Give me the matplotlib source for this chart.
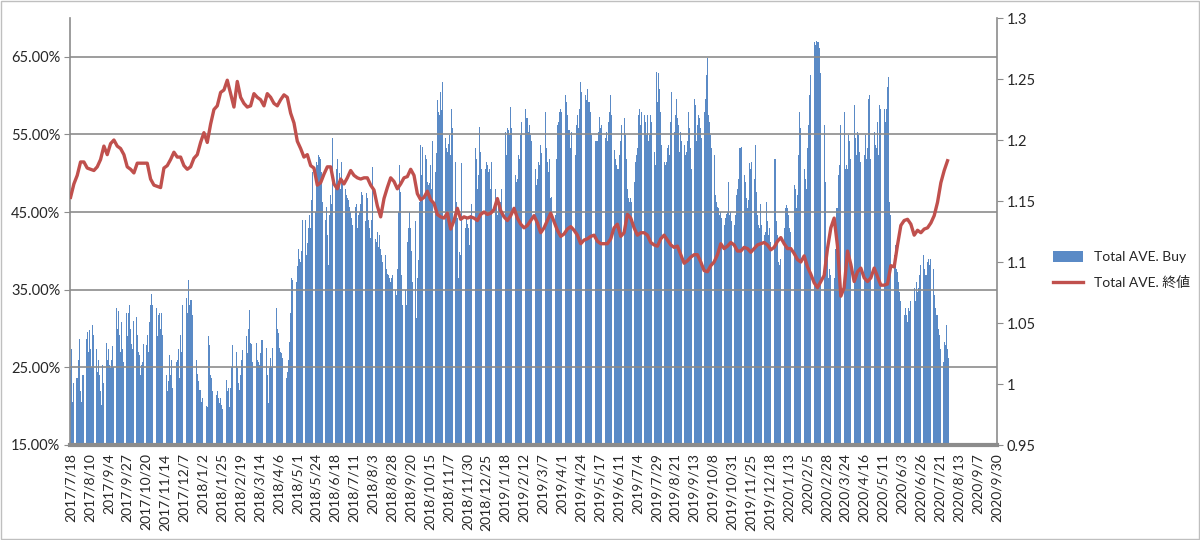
import numpy as np
import matplotlib.pyplot as plt
from matplotlib.patches import Rectangle

# Total AVE. Buy (%), one value per weekday from 2017/7/18 to 2020/7/31
buy_pct = [
    24.7, 27.4, 20.6, 23, 19.5, 23.6, 23.6, 26, 28.7, 22,
    20.6, 24, 24, 26, 28.7, 29.6, 27, 29.8, 27.4, 25,
    30.5, 29.2, 27, 27.4, 24.4, 26, 24, 22, 20.2, 25.3,
    23, 24.4, 28.1, 26, 27.4, 25.3, 24.9, 26, 27.7, 25,
    27.7, 32.6, 30, 32.2, 29.2, 27, 30.9, 27.4, 25.7, 28,
    32, 29, 32, 33, 30, 28, 27.4, 31, 33, 31.5,
    29.2, 27, 26.6, 24, 25.3, 25.7, 28, 30.2, 27.9, 29.2,
    27, 30.9, 33, 34.5, 33, 30, 31, 32.6, 29, 31.7,
    32, 30, 32, 29.2, 27.4, 26, 24, 22, 23.2, 26.6,
    24, 26, 22.3, 24.4, 23, 25.7, 26, 27.4, 23.6, 29.2,
    27, 33, 34.7, 32, 33.9, 32, 36.2, 33, 33.7, 33.7,
    31.7, 27, 24.7, 26, 24.2, 23.2, 22.1, 22.1, 20.6, 21,
    20.2, 20.8, 20, 19.9, 29, 27.9, 24, 23.6, 21.9, 21.9,
    23.6, 21.4, 22, 21, 20.4, 21, 20.2, 19.7, 21, 26,
    23.4, 22, 22.3, 19.9, 22.3, 25, 27.9, 27.7, 26, 27,
    24.9, 23, 22.1, 24, 26, 27.2, 28.1, 27, 29, 26.8,
    30, 32.4, 28.1, 28, 25.7, 28.1, 27, 28.1, 26, 25.7,
    25.3, 26.8, 28.5, 28.5, 31.3, 29, 27.5, 24, 20.4, 24.9,
    26.2, 25, 27.5, 29, 30.7, 32.6, 30, 29.4, 27.5, 27,
    26.8, 26.2, 25, 24.7, 23.6, 24.4, 26, 28.3, 32, 36.5,
    36.2, 42, 38, 36, 38, 40.3, 39, 38.6, 40, 44,
    41, 44, 39.5, 41, 42.9, 44.6, 43, 46.5, 50.2, 45.5,
    45, 51.5, 51.1, 52.3, 52.1, 51.9, 50.2, 46.3, 47, 44,
    45.7, 42, 38.2, 44.6, 47.2, 46, 54.5, 51.1, 48.5, 50.6,
    51.9, 49, 50, 48, 51.5, 49.3, 48, 48, 47.2, 46.8,
    46.5, 45.7, 45, 44.2, 43.3, 44, 45.7, 46.1, 42.9, 44.6,
    45, 46, 47.6, 47.2, 45, 43.8, 47.4, 46.8, 44, 42.9,
    41.6, 44, 50.8, 42.5, 41.5, 41.2, 42.5, 40.5, 42, 40.3,
    39.5, 38.6, 39, 39.5, 37.7, 37, 36.9, 36.5, 36, 36.5,
    36.9, 36.2, 35, 34.3, 37.7, 45, 51.1, 47.6, 36.9, 33,
    40.3, 35, 33, 41.2, 43, 45, 42.9, 40, 36, 40,
    43.8, 31.3, 36.5, 38.8, 46.3, 53.6, 49.8, 53.4, 51.1, 52.3,
    51.9, 48.9, 48.5, 48.7, 51.1, 48, 54.1, 54.9, 50.2, 52.6,
    59.4, 57.9, 57.5, 60.5, 58.1, 61.8, 57.5, 54.5, 53.2, 52.8,
    53.8, 54.9, 52.3, 58.3, 55.8, 54.1, 51.5, 46.3, 44.2, 36.5,
    39.9, 39.5, 51.3, 46.8, 45.5, 42.9, 44.2, 43.5, 42.9, 40.8,
    44.6, 46.1, 48.5, 46.3, 53.2, 51.9, 48, 49.8, 56, 52.8,
    50.6, 51.1, 48.9, 50.6, 51.5, 51.1, 50.2, 50.6, 48, 51.5,
    50.2, 50.6, 48, 46.3, 44.6, 46.8, 45.5, 46.3, 48, 52.3,
    54.1, 55.3, 52.3, 55.8, 55.6, 54.9, 58.6, 55.8, 52.3, 51.9,
    49.8, 48.9, 49.3, 52.3, 51.9, 54.9, 56.6, 60.9, 59.2, 58.3,
    57.1, 57.1, 55.3, 56.2, 54.9, 54.1, 52.8, 52.3, 50.6, 48.5,
    49.3, 51.5, 51.1, 53.6, 52.6, 52.3, 62.4, 57.9, 53.2, 51.5,
    50.2, 51.9, 46.8, 47, 46.3, 41.2, 44.6, 51.9, 56.2, 56.6,
    57.9, 58.3, 57.9, 59.6, 61.1, 60.1, 59.2, 57.5, 55.6, 55.6,
    53.2, 55.3, 53.2, 52.8, 52.3, 56.2, 57.5, 55.8, 58.3, 61.8,
    60.5, 63.5, 61.8, 60.1, 59.4, 60.9, 59.2, 59.2, 57.9, 54.9,
    54.1, 54.5, 54.1, 54.1, 54.1, 55.3, 57.3, 55.8, 56.2, 54.5,
    56.6, 54.5, 55.3, 54.1, 56.6, 57.9, 60.1, 57.5, 57.1, 53,
    51.9, 51.1, 50.6, 50.6, 52.3, 54.1, 56.2, 57.1, 57.1, 54.9,
    51.9, 48, 46.8, 46.3, 46.8, 46.3, 45.9, 48.9, 51.5, 52.3,
    53.2, 57.5, 58.3, 56.2, 57.9, 56.6, 57.5, 56.6, 54.9, 57.5,
    54.1, 54.9, 57.5, 56.6, 53.2, 52.8, 51.1, 63.1, 59.2, 62.9,
    60.9, 57.9, 53.6, 51.9, 51.5, 51.1, 51.5, 53.2, 53.6, 52.3,
    56.6, 60.5, 57.1, 55.3, 57.5, 59.6, 57.1, 56.2, 52.8, 55.3,
    54.1, 54.9, 53.6, 52.3, 52.8, 54.1, 57.9, 55.8, 53.2, 50.6,
    52.3, 59.6, 58.8, 54.1, 56.2, 57.5, 57.1, 55.8, 54.5, 55.3,
    57.9, 59.6, 62.6, 64.8, 57.5, 56.6, 54.9, 53.2, 51.9, 52.3,
    47.2, 46.3, 45.7, 45.5, 44.6, 45, 44.2, 43.8, 43.3, 44.2,
    44.8, 45, 48.9, 44.6, 45, 43.8, 44.2, 43.3, 44.6, 47.2,
    48, 49.3, 53.2, 53.2, 53.4, 51.5, 49.8, 48.9, 46.8, 45.5,
    46.5, 51.3, 50.6, 51.5, 51.9, 49.3, 53.6, 47.6, 44.6, 43.3,
    42.9, 46.1, 43.3, 42.5, 42, 42.5, 46.3, 43.8, 42, 42.9,
    41.2, 43.8, 45.9, 51.9, 51.9, 43.8, 42, 38.6, 38.2, 39,
    39.5, 40.8, 42.9, 45.5, 45.9, 45.5, 44.6, 42.9, 42.5, 43.8,
    51.5, 48.5, 48, 45.5, 47.2, 52.3, 57.9, 55.8, 56.2, 52.8,
    50.6, 49.3, 48, 53.2, 56.2, 60.1, 62.6, 65.6, 66.5, 66.9,
    66.5, 67.1, 66.9, 66.9, 66.1, 62.9, 58.8, 56.6, 56.2, 48.9,
    40.3, 41.2, 36.5, 37.7, 36.9, 35.6, 33.9, 36.5, 40.3, 45.5,
    45.5, 49.8, 51.1, 56.2, 58.3, 58.8, 57.9, 50.6, 51.1, 50.6,
    54.9, 54.1, 51.9, 58.3, 61.8, 58.8, 54.5, 52.3, 55.3, 54.9,
    52.8, 51.5, 50.6, 50.2, 52.3, 54.9, 51.9, 53.2, 59.6, 60.1,
    51.9, 50.6, 53.6, 55.3, 53.6, 53.2, 56.6, 52.3, 58.8, 58.3,
    59.6, 58.8, 58.3, 56.6, 58.3, 61.1, 62.4, 46.3, 44.6, 45.9,
    42.5, 39.5, 40.8, 37.7, 37.3, 36, 34.7, 33.5, 32.6, 33.5,
    31.7, 32.6, 31.7, 30.9, 32.6, 32.2, 33.5, 33.9, 35.6, 35.2,
    33.5, 36, 34.7, 35.2, 36.9, 38.2, 38.6, 39.5, 37.7, 36.9,
    36.9, 38.6, 39, 38.2, 39, 36.9, 37.7, 34.3, 32.6, 31.7,
    31.7, 30, 29.2, 27.4, 27, 25.7, 28.3, 27.9, 30.5, 27.4,
    26.2,
]

# Total AVE. 終値, read every third weekday
close = [
    1.153, 1.164, 1.171, 1.182, 1.182, 1.177, 1.176, 1.175, 1.178, 1.184,
    1.195, 1.188, 1.197, 1.200, 1.195, 1.193, 1.188, 1.178, 1.176, 1.173,
    1.181, 1.181, 1.181, 1.181, 1.168, 1.163, 1.162, 1.161, 1.177, 1.179,
    1.184, 1.190, 1.186, 1.186, 1.179, 1.176,
    1.178, 1.185, 1.188, 1.198, 1.206, 1.198, 1.213, 1.225, 1.228, 1.239,
    1.241, 1.249, 1.238, 1.227, 1.248, 1.235, 1.230, 1.227, 1.228, 1.238,
    1.235, 1.233, 1.228, 1.238, 1.235, 1.230, 1.228, 1.233, 1.237, 1.235,
    1.222, 1.214, 1.199, 1.193, 1.186,
    1.188, 1.179, 1.177, 1.163, 1.165, 1.172, 1.178, 1.178, 1.164, 1.160,
    1.168, 1.164, 1.169, 1.175, 1.171, 1.169, 1.168, 1.169, 1.169, 1.163,
    1.159, 1.146, 1.137, 1.152, 1.161, 1.169, 1.166, 1.160, 1.164, 1.169,
    1.170, 1.176, 1.171, 1.156,
    1.151, 1.153, 1.158, 1.151, 1.148, 1.139, 1.137, 1.136, 1.140, 1.127,
    1.134, 1.144, 1.135, 1.137, 1.136, 1.137, 1.136, 1.134, 1.139, 1.141,
    1.139, 1.140, 1.143, 1.152, 1.142, 1.137, 1.134, 1.138, 1.144, 1.136,
    1.131, 1.128, 1.130, 1.134,
    1.138, 1.132, 1.124, 1.128, 1.134, 1.140, 1.133, 1.126, 1.121, 1.123,
    1.127, 1.129, 1.126, 1.122, 1.115, 1.118, 1.119, 1.121, 1.122, 1.117,
    1.115, 1.115, 1.115, 1.119, 1.128, 1.131, 1.121, 1.124, 1.139, 1.136,
    1.128, 1.122, 1.124, 1.124,
    1.122, 1.116, 1.114, 1.113, 1.119, 1.122, 1.118, 1.114, 1.112, 1.113,
    1.106, 1.099, 1.101, 1.104, 1.106, 1.106, 1.100, 1.093, 1.092, 1.097,
    1.100, 1.106, 1.115, 1.111, 1.113, 1.116, 1.114, 1.109, 1.109, 1.112,
    1.111, 1.108, 1.111, 1.114, 1.115,
    1.116, 1.114, 1.110, 1.112, 1.117, 1.120, 1.115, 1.111, 1.111, 1.107,
    1.102, 1.100, 1.105, 1.096, 1.090, 1.083, 1.079, 1.084, 1.089, 1.111,
    1.128, 1.136, 1.113, 1.072, 1.079, 1.109, 1.098, 1.084, 1.092, 1.095,
    1.087, 1.084, 1.087, 1.095, 1.088,
    1.081, 1.081, 1.082, 1.097, 1.096, 1.114, 1.130, 1.134, 1.135, 1.131,
    1.122, 1.126, 1.124, 1.127, 1.128, 1.132, 1.138, 1.149, 1.165, 1.175,
    1.183,
]

date_labels = [
    '2017/7/18', '2017/8/10', '2017/9/4', '2017/9/27', '2017/10/20',
    '2017/11/14', '2017/12/7', '2018/1/2', '2018/1/25', '2018/2/19',
    '2018/3/14', '2018/4/6', '2018/5/1', '2018/5/24', '2018/6/18',
    '2018/7/11', '2018/8/3', '2018/8/28', '2018/9/20', '2018/10/15',
    '2018/11/7', '2018/11/30', '2018/12/25', '2019/1/18', '2019/2/12',
    '2019/3/7', '2019/4/1', '2019/4/24', '2019/5/17', '2019/6/11',
    '2019/7/4', '2019/7/29', '2019/8/21', '2019/9/13', '2019/10/8',
    '2019/10/31', '2019/11/25', '2019/12/18', '2020/1/13', '2020/2/5',
    '2020/2/28', '2020/3/24', '2020/4/16', '2020/5/11', '2020/6/3',
    '2020/6/26', '2020/7/21', '2020/8/13', '2020/9/7', '2020/9/30',
]

n_categories = 834   # weekdays up to 2020/9/30
label_step = 17
close_step = 3

plt.rcParams['font.family'] = ['Lato', 'Noto Sans CJK JP', 'DejaVu Sans']
txt = '#262626'
axis_gray = '#8c8c8c'

fig = plt.figure(figsize=(12, 5.4), dpi=100)
fig.patches.append(Rectangle((0.0005, 0.001), 0.999, 0.998, transform=fig.transFigure,
                             fill=False, edgecolor='#bfbfbf', linewidth=1))

ax = fig.add_axes([70 / 1200, 95 / 540, 927 / 1200, 427 / 540])
x = np.arange(len(buy_pct))
bars = ax.bar(x, np.array(buy_pct) / 100, width=0.75, color='#5a8ac6',
              linewidth=0, label='Total AVE. Buy', zorder=1)

ax.set_xlim(-0.5, n_categories - 0.5)
ax.set_ylim(0.15, 0.70)
yt = np.arange(0.15, 0.66, 0.10)
ax.set_yticks(yt)
ax.set_yticklabels([f'{v * 100:.2f}%' for v in yt])
ax.yaxis.grid(True, color=axis_gray, linewidth=1.2, zorder=2)
ax.set_axisbelow(False)

ax.set_xticks(np.arange(0, n_categories, label_step))
ax.set_xticklabels(date_labels, rotation=90)
ax.tick_params(axis='x', length=0, labelsize=10, labelcolor=txt, pad=6)
ax.tick_params(axis='y', direction='out', length=4, color=axis_gray,
               labelsize=10.5, labelcolor=txt, pad=3)

for s in ['top', 'right']:
    ax.spines[s].set_visible(False)
ax.spines['left'].set_color(axis_gray)
ax.spines['left'].set_linewidth(1.2)
ax.spines['bottom'].set_color(axis_gray)
ax.spines['bottom'].set_linewidth(3)
ax.spines['bottom'].set_zorder(3)

ax2 = ax.twinx()
line, = ax2.plot(np.arange(0, len(buy_pct), close_step), close, color='#C0504D',
                 linewidth=2.4, label='Total AVE. 終値')
ax2.set_ylim(0.95, 1.30)
rt = np.round(np.arange(0.95, 1.301, 0.05), 2)
ax2.set_yticks(rt)
ax2.set_yticklabels([f'{v:g}' for v in rt])
ax2.tick_params(axis='y', direction='out', length=4, color=axis_gray,
                labelsize=10.5, labelcolor=txt, pad=3)
for s in ['top', 'left', 'bottom']:
    ax2.spines[s].set_visible(False)
ax2.spines['right'].set_color(axis_gray)
ax2.spines['right'].set_linewidth(1.2)

fig.legend([bars, line], ['Total AVE. Buy', 'Total AVE. 終値'],
           loc='center left', bbox_to_anchor=(1040 / 1200, 1 - 270 / 540),
           frameon=False, fontsize=10, handlelength=2.2, handleheight=0.8,
           labelspacing=0.9, labelcolor=txt)

fig.savefig('out.png', dpi=100)
